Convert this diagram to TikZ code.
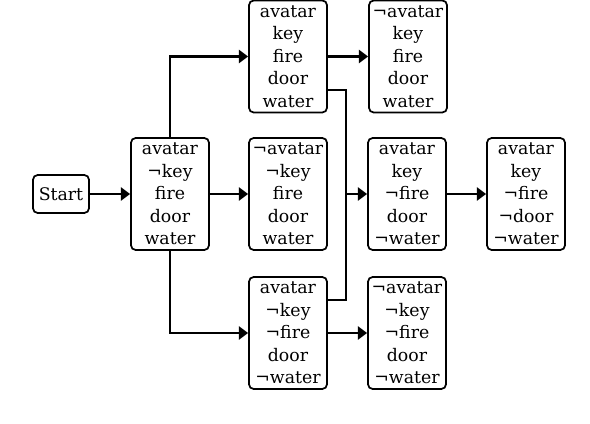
\documentclass[tikz,border=0pt]{standalone}
\usepackage{fontspec}
\setmainfont{DejaVu Serif}
\usetikzlibrary{arrows.meta}
\tikzset{
  state/.style={draw, line width=1.3pt, rounded corners=3.5pt, align=center, inner sep=0pt,
    minimum width=58.5pt, minimum height=84pt, font=\fontsize{13}{16.9}\selectfont},
  flow/.style={line width=1.6pt, -{Triangle[length=7pt,width=10pt]}},
  link/.style={line width=1.6pt}
}
\begin{document}
\begin{tikzpicture}[x=0.75pt,y=-0.75pt]
  \useasboundingbox (0,0) rectangle (590,424);
  % states
  \node[state, minimum width=42pt, minimum height=28.5pt] (start) at (61,194) {Start};
  \node[state] (s0) at (170,194) {avatar\\¬key\\fire\\door\\water};
  \node[state] (s1) at (288,56.5) {avatar\\key\\fire\\door\\water};
  \node[state] (s2) at (288,194) {¬avatar\\¬key\\fire\\door\\water};
  \node[state] (s3) at (288,333) {avatar\\¬key\\¬fire\\door\\¬water};
  \node[state] (s4) at (408,56.5) {¬avatar\\key\\fire\\door\\water};
  \node[state] (s5) at (407,194) {avatar\\key\\¬fire\\door\\¬water};
  \node[state] (s6) at (407,333) {¬avatar\\¬key\\¬fire\\door\\¬water};
  \node[state] (s7) at (526,194) {avatar\\key\\¬fire\\¬door\\¬water};
  \coordinate (join) at (346,194);
  % transitions
  \draw[flow] (start) -- (s0);
  \draw[flow] (s0.north) |- (s1.west);
  \draw[flow] (s0) -- (s2);
  \draw[flow] (s0.south) |- (s3.west);
  \draw[flow] (s1.east) -- (s4.west);
  \draw[link] ([yshift=-25pt]s1.east) -| (join);
  \draw[link] ([yshift=25pt]s3.east) -| (join);
  \draw[flow] (join) -- (s5.west);
  \draw[flow] (s3.east) -- (s6.west);
  \draw[flow] (s5) -- (s7);
\end{tikzpicture}
\end{document}
